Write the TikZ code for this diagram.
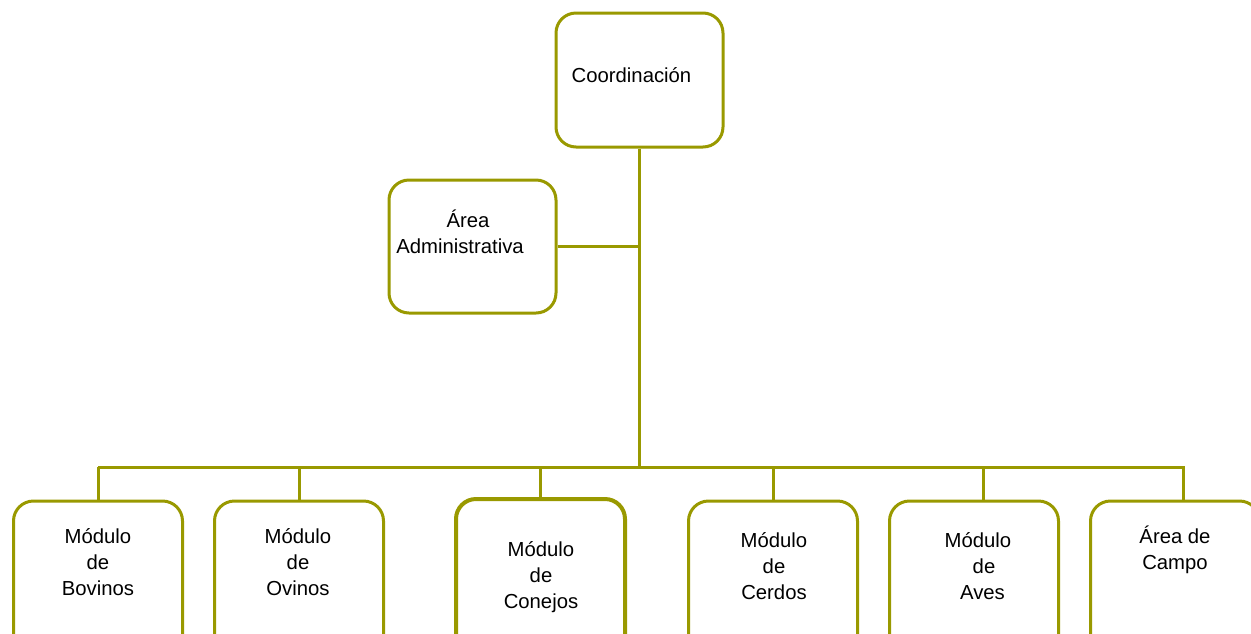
\documentclass[tikz,border=0pt]{standalone}
\usepackage{fontspec}
\setmainfont{Liberation Sans}
\definecolor{olivebox}{RGB}{153,153,0}
\begin{document}
\begin{tikzpicture}[x=1pt,y=-1pt,
  box/.style={draw=olivebox,line width=3pt,rounded corners=20pt,fill=white,minimum width=167pt,minimum height=134pt,inner sep=0pt},
  lowbox/.style={box,minimum width=169pt,minimum height=170pt},
  conn/.style={draw=olivebox,line width=3pt},
  lbl/.style={align=center,inner sep=0pt,font=\fontsize{20.3pt}{26pt}\selectfont}]
\useasboundingbox (0,0) rectangle (1251,633);
\clip (0,0) rectangle (1251,633);
\coordinate (busL) at (98,467);
\coordinate (busR) at (1185,467);
% boxes
\node[box] (coord) at (639.5,80) {};
\node[box,minimum height=133pt] (admin) at (472.5,246.5) {};
\node[lowbox] (b1) at (98,586) {};
\node[lowbox] (b2) at (299,586) {};
\node[lowbox,line width=4pt] (b3) at (540.5,584) {};
\node[lowbox] (b4) at (773,586) {};
\node[lowbox] (b5) at (974,586) {};
\node[lowbox] (b6) at (1175,586) {};
% connectors
\draw[conn] (coord.south) -- (coord.south |- busL);
\draw[conn] (admin.east) -- (admin.east -| coord.south);
\draw[conn] (busL) -- (busR);
\draw[conn] (b1.north) -- (b1.north |- busL);
\draw[conn] (b2.north) -- (b2.north |- busL);
\draw[conn] (b3.north) -- (b3.north |- busL);
\draw[conn] (b4.north) -- (b4.north |- busL);
\draw[conn] ([xshift=9pt]b5.north) -- ([xshift=9pt]b5.north |- busL);
\draw[conn] ([xshift=8pt]b6.north) -- ([xshift=8pt]b6.north |- busL);
% labels
\node[lbl] (tcoord) at (631.5,75) {Coordinación};
\node[lbl] (tadmin) at (460,232) {\hspace*{16pt}Área\\Administrativa};
\node[lbl] (t1) at (98,562) {Módulo\\de\\Bovinos};
\node[lbl] (t2) at (298,562) {Módulo\\de\\Ovinos};
\node[lbl] (t3) at (541,577) {Módulo\\de\\Conejos};
\node[lbl] (t4) at (774,566) {Módulo\\de\\Cerdos};
\node[lbl] (t5) at (978,566) {Módulo\\\hspace*{12pt}de\\\hspace*{9pt}Aves};
\node[lbl] (t6) at (1175,550) {Área de\\Campo};
\end{tikzpicture}
\end{document}
